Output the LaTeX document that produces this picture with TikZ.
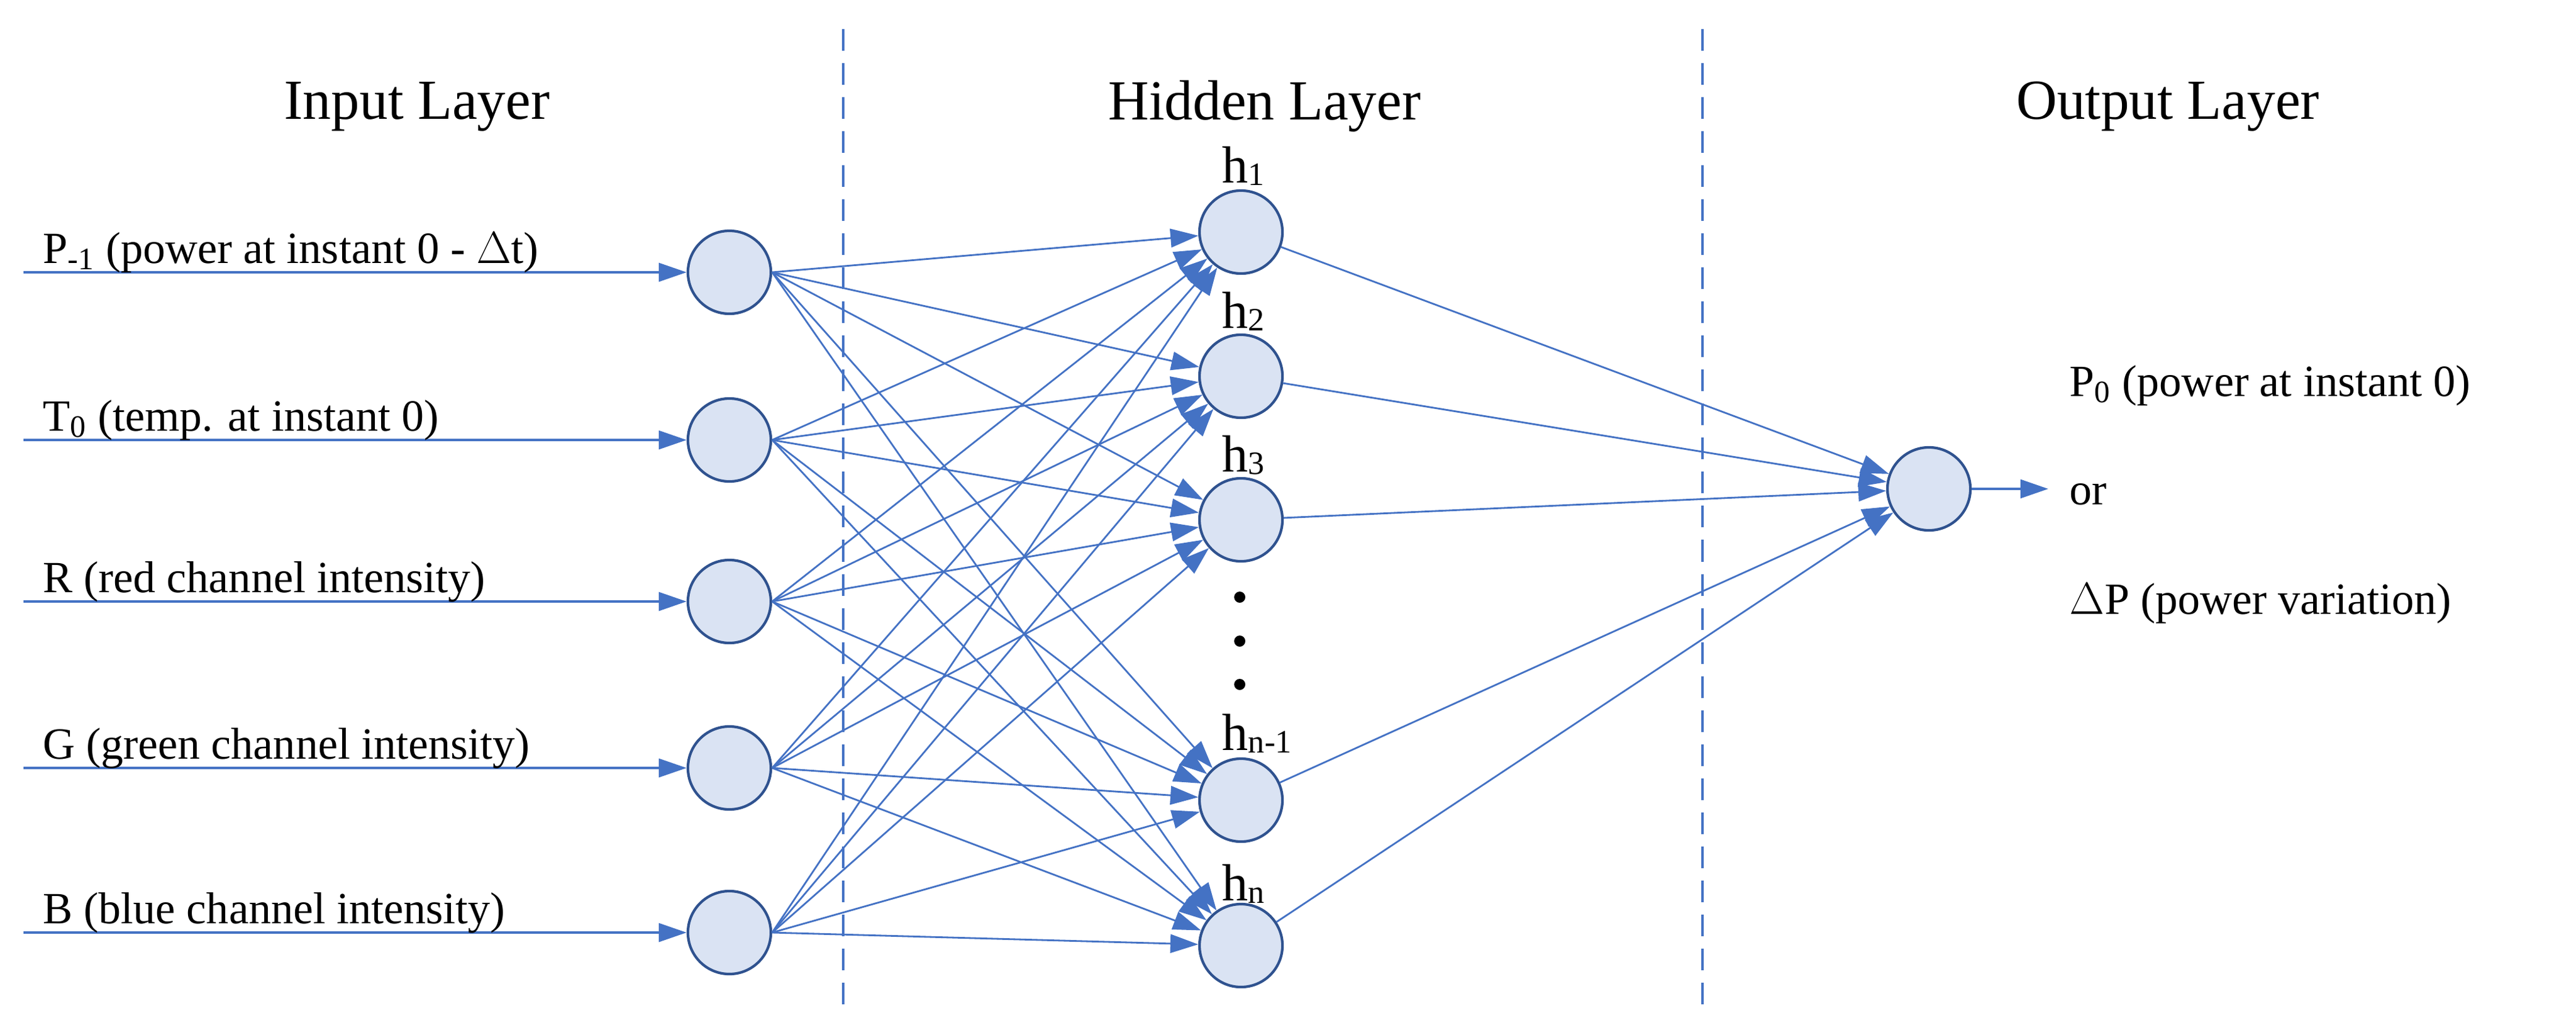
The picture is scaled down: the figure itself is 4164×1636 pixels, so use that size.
\documentclass[tikz,border=0pt]{standalone}
\usepackage{fontspec}
\setmainfont{Liberation Serif}
\usetikzlibrary{arrows.meta}
\definecolor{ln}{HTML}{4472C4}
\definecolor{nf}{HTML}{DAE3F3}
\definecolor{nd}{HTML}{2F528F}
\newcommand{\hsub}[1]{\raisebox{-0.05em}{\fontsize{15}{18}\selectfont #1}}
\begin{document}
\begin{tikzpicture}[x=0.01cm,y=-0.01cm,
  neuron/.style={circle,draw=nd,fill=nf,line width=1.2pt,minimum size=1.34cm,inner sep=0},
  conn/.style={draw=ln,line width=1pt,-{Triangle[length=0.45cm,width=0.3cm]}},
  title/.style={font=\fontsize{26}{30}\selectfont},
  lab/.style={font=\fontsize{20.5}{24}\selectfont,anchor=base west,inner sep=0},
  hl/.style={font=\fontsize{24}{28}\selectfont,anchor=base west,inner sep=0},
  sep line/.style={draw=ln,line width=1pt,dash pattern=on 0.35cm off 0.2cm}]
\useasboundingbox (0,0) rectangle (4164,1636);
\node[title] (t1) at (674,172) {Input Layer};
\node[title] (t2) at (2044,172) {Hidden Layer};
\node[title] (t3) at (3504,172) {Output Layer};
\coordinate (d1a) at (1363,47); \coordinate (d1b) at (1363,1636);
\coordinate (d2a) at (2752,47); \coordinate (d2b) at (2752,1636);
\draw[sep line] (d1a) -- (d1b);
\draw[sep line] (d2a) -- (d2b);
\foreach \i/\y in {1/440,2/711,3/972,4/1241,5/1507}{
  \node[neuron] (i\i) at (1179,\y) {};
  \coordinate (s\i) at (38,\y);
  \draw[conn] (s\i) -- (i\i);
}
\node[lab] (l1) at (69,425) {P\textsubscript{-1} (power at instant 0 - $\Delta$t)};
\node[lab] (l2) at (69,696) {T\textsubscript{0} (temp. at instant 0)};
\node[lab] (l3) at (69,957) {R (red channel intensity)};
\node[lab] (l4) at (69,1226) {G (green channel intensity)};
\node[lab] (l5) at (69,1492) {B (blue channel intensity)};
\foreach \j/\y in {1/375,2/608,3/840,4/1293,5/1528}{
  \node[neuron] (h\j) at (2006,\y) {};
}
\node[hl] (hl1) at (1975,295) {h\hsub{1}};
\node[hl] (hl2) at (1975,530) {h\hsub{2}};
\node[hl] (hl3) at (1975,762) {h\hsub{3}};
\node[hl] (hl4) at (1975,1212) {h\hsub{n-1}};
\node[hl] (hl5) at (1975,1455) {h\hsub{n}};
\foreach \y [count=\k] in {965,1036,1106}{
  \fill (2004,\y) circle (0.09cm) node (dot\k) {};
}
\foreach \i in {1,...,5}{
  \foreach \j in {1,...,5}{
    \draw[conn,line width=0.8pt] (i\i.east) -- (h\j);
  }
}
\node[neuron] (o) at (3118,790) {};
\foreach \j in {1,...,5}{
  \draw[conn,line width=0.8pt] (h\j) -- (o);
}
\coordinate (oe) at (3311,790);
\draw[conn] (o) -- (oe);
\node[lab] (p0) at (3345,640) {P\textsubscript{0} (power at instant 0)};
\node[lab] (or) at (3345,815) {or};
\node[lab] (dp) at (3345,992) {$\Delta$P (power variation)};
\end{tikzpicture}
\end{document}
